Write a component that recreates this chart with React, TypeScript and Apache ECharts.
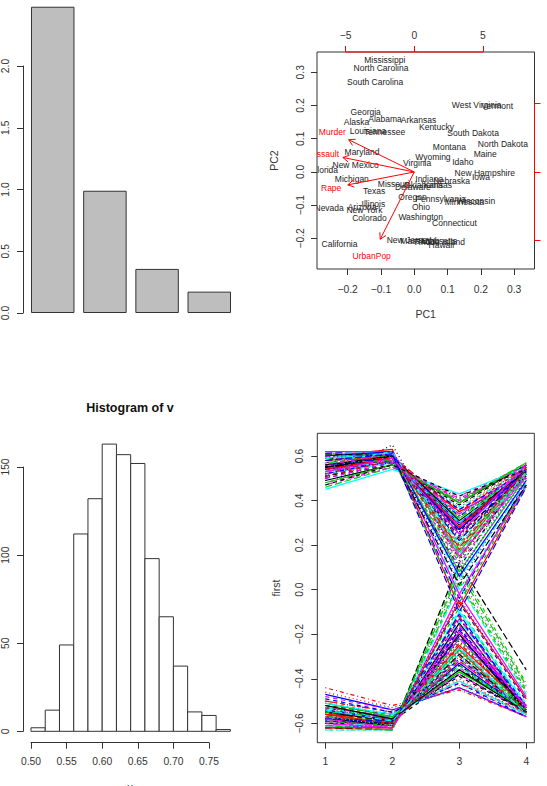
import React, { useEffect, useRef } from 'react';
import * as echarts from 'echarts';

// ---------- Panel 1: scree barplot ----------
const screeComponents = ['PC1', 'PC2', 'PC3', 'PC4'];
const screeVariances = [2.48, 0.99, 0.357, 0.173];
const screeTicks = [0, 0.5, 1, 1.5, 2];

// ---------- Panel 2: biplot (USArrests) ----------
const stateNames = ['Alabama', 'Alaska', 'Arizona', 'Arkansas', 'California', 'Colorado', 'Connecticut', 'Delaware', 'Florida', 'Georgia', 'Hawaii', 'Idaho', 'Illinois', 'Indiana', 'Iowa', 'Kansas', 'Kentucky', 'Louisiana', 'Maine', 'Maryland', 'Massachusetts', 'Michigan', 'Minnesota', 'Mississippi', 'Missouri', 'Montana', 'Nebraska', 'Nevada', 'New Hampshire', 'New Jersey', 'New Mexico', 'New York', 'North Carolina', 'North Dakota', 'Ohio', 'Oklahoma', 'Oregon', 'Pennsylvania', 'Rhode Island', 'South Carolina', 'South Dakota', 'Tennessee', 'Texas', 'Utah', 'Vermont', 'Virginia', 'Washington', 'West Virginia', 'Wisconsin', 'Wyoming'];
const statePC1 = [-0.0876, -0.1734, -0.1567, 0.0126, -0.2244, -0.1346, 0.1208, -0.0042, -0.2678, -0.1457, 0.0811, 0.1458, -0.1226, 0.0449, 0.2003, 0.0708, 0.0667, -0.1391, 0.2131, -0.1568, 0.0432, -0.1874, 0.1505, -0.0886, -0.0619, 0.1054, 0.1125, -0.2555, 0.2119, -0.0161, -0.1760, -0.1496, -0.0999, 0.2660, 0.0201, 0.0277, -0.0053, 0.0790, 0.0768, -0.1174, 0.1767, -0.0889, -0.1205, 0.0489, 0.2490, 0.0086, 0.0193, 0.1874, 0.1848, 0.0560];
const statePC2 = [0.1595, 0.1510, -0.1050, 0.1576, -0.2171, -0.1390, -0.1532, -0.0458, 0.0055, 0.1800, -0.2210, 0.0297, -0.0960, -0.0213, -0.0146, -0.0380, 0.1349, 0.1226, 0.0530, 0.0602, -0.2075, -0.0219, -0.0890, 0.3368, -0.0371, 0.0755, -0.0273, -0.1091, -0.0025, -0.2040, 0.0201, -0.1158, 0.3135, 0.0844, -0.1045, -0.0405, -0.0762, -0.0804, -0.2100, 0.2721, 0.1159, 0.1211, -0.0580, -0.2071, 0.1973, 0.0280, -0.1365, 0.2010, -0.0860, 0.0452];
const varNames = ['Murder', 'Assault', 'UrbanPop', 'Rape'];
const varPC1 = [-5.968, -6.494, -3.098, -6.051];
const varPC2 = [2.942, 1.323, -6.140, -1.177];
const biplotTicks = [-0.2, -0.1, 0, 0.1, 0.2, 0.3];
const loadingTicks = [-5, 0, 5];
const biplotLimits = [-0.292, 0.361];
const loadingRatio = 24.25;

// ---------- Panel 3: histogram ----------
const histBreaks = [0.50, 0.52, 0.54, 0.56, 0.58, 0.60, 0.62, 0.64, 0.66, 0.68, 0.70, 0.72, 0.74, 0.76, 0.78];
const histCounts = [2, 12, 49, 112, 132, 163, 157, 152, 98, 65, 37, 11, 9, 1];
const histXTicks = [0.5, 0.55, 0.6, 0.65, 0.7, 0.75];
const histYTicks = [0, 50, 100, 150];

// ---------- Panel 4: matplot of bootstrap loadings ----------
const matX = [1, 2, 3, 4];
const matYTicks = [-0.6, -0.4, -0.2, 0, 0.2, 0.4, 0.6];
const positiveSamples = [
  [0.55, 0.59, 0.29, 0.54], [0.53, 0.58, 0.33, 0.52], [0.58, 0.60, 0.22, 0.53], [0.51, 0.57, 0.38, 0.55],
  [0.56, 0.61, 0.18, 0.55], [0.60, 0.60, 0.12, 0.52], [0.49, 0.56, 0.41, 0.54], [0.54, 0.59, 0.30, 0.52],
  [0.57, 0.58, 0.25, 0.55], [0.52, 0.60, 0.35, 0.50], [0.59, 0.62, 0.08, 0.51], [0.47, 0.55, 0.42, 0.56],
  [0.55, 0.57, 0.27, 0.56], [0.61, 0.61, 0.03, 0.50], [0.53, 0.59, 0.31, 0.53], [0.56, 0.60, 0.20, 0.54],
  [0.50, 0.56, 0.37, 0.55], [0.58, 0.62, 0.15, 0.51], [0.54, 0.58, 0.28, 0.55], [0.62, 0.60, -0.04, 0.49],
  [0.52, 0.57, 0.34, 0.53], [0.57, 0.59, 0.23, 0.54], [0.46, 0.55, 0.40, 0.57], [0.55, 0.61, 0.26, 0.50],
  [0.59, 0.58, 0.10, 0.55], [0.51, 0.58, 0.36, 0.52], [0.56, 0.60, 0.19, 0.53], [0.60, 0.63, -0.08, 0.47],
  [0.53, 0.57, 0.32, 0.54], [0.58, 0.61, 0.16, 0.52], [0.49, 0.56, 0.39, 0.56], [0.55, 0.59, 0.24, 0.54],
  [0.61, 0.62, 0.05, 0.48], [0.52, 0.58, 0.33, 0.55], [0.57, 0.60, 0.21, 0.52], [0.54, 0.57, 0.29, 0.56],
  [0.50, 0.65, 0.13, 0.55], [0.56, 0.59, 0.27, 0.53], [0.59, 0.61, 0.00, 0.46], [0.53, 0.58, 0.35, 0.51],
  [0.58, 0.60, 0.17, 0.54], [0.48, 0.55, 0.41, 0.55], [0.55, 0.60, 0.25, 0.52], [0.60, 0.59, 0.07, 0.53],
  [0.52, 0.57, 0.37, 0.54], [0.57, 0.61, 0.14, 0.55], [0.54, 0.58, 0.30, 0.53], [0.62, 0.62, -0.02, 0.47],
  [0.51, 0.56, 0.38, 0.56], [0.56, 0.59, 0.22, 0.54], [0.45, 0.54, 0.43, 0.55], [0.58, 0.60, 0.18, 0.52],
  [0.53, 0.59, 0.32, 0.54], [0.60, 0.61, 0.09, 0.50], [0.55, 0.58, 0.26, 0.56], [0.50, 0.57, 0.36, 0.53],
  [0.57, 0.62, 0.11, 0.52], [0.54, 0.59, 0.28, 0.55], [0.61, 0.60, -0.06, 0.48], [0.52, 0.58, 0.34, 0.54],
  [0.56, 0.60, 0.31, 0.53], [0.52, 0.58, 0.27, 0.54], [0.59, 0.61, 0.20, 0.52], [0.54, 0.59, 0.36, 0.55],
  [0.57, 0.58, 0.14, 0.53], [0.50, 0.57, 0.40, 0.56], [0.55, 0.60, 0.23, 0.51], [0.60, 0.62, 0.06, 0.49],
  [0.53, 0.58, 0.30, 0.55], [0.58, 0.59, 0.19, 0.54], [0.48, 0.56, 0.39, 0.57], [0.56, 0.61, 0.28, 0.52],
  [0.61, 0.60, 0.02, 0.47], [0.54, 0.57, 0.33, 0.54], [0.57, 0.62, 0.16, 0.53], [0.51, 0.58, 0.35, 0.55],
  [0.59, 0.60, 0.11, 0.51], [0.53, 0.59, 0.25, 0.56], [0.47, 0.56, 0.42, 0.54], [0.58, 0.61, -0.10, 0.46],
];
const negativeSamples = [
  [-0.56, -0.59, -0.30, -0.54], [-0.54, -0.58, -0.34, -0.53], [-0.59, -0.61, -0.22, -0.53], [-0.52, -0.56, -0.39, -0.55],
  [-0.57, -0.60, -0.18, -0.55], [-0.61, -0.62, -0.10, -0.52], [-0.50, -0.55, -0.42, -0.55], [-0.55, -0.59, -0.31, -0.54],
  [-0.58, -0.60, -0.25, -0.56], [-0.53, -0.57, -0.36, -0.53], [-0.60, -0.62, -0.06, -0.50], [-0.48, -0.53, -0.45, -0.56],
  [-0.56, -0.58, -0.27, -0.56], [-0.62, -0.63, 0.04, -0.45], [-0.54, -0.59, -0.32, -0.54], [-0.57, -0.61, -0.20, -0.55],
  [-0.51, -0.56, -0.38, -0.55], [-0.59, -0.62, -0.14, -0.52], [-0.55, -0.58, -0.28, -0.55], [-0.63, -0.63, 0.10, -0.42],
  [-0.53, -0.57, -0.35, -0.54], [-0.58, -0.60, -0.23, -0.55], [-0.47, -0.54, -0.44, -0.57], [-0.56, -0.61, -0.26, -0.53],
  [-0.60, -0.59, -0.12, -0.55], [-0.52, -0.58, -0.37, -0.52], [-0.57, -0.60, -0.19, -0.54], [-0.62, -0.63, 0.12, -0.36],
  [-0.54, -0.57, -0.33, -0.55], [-0.59, -0.61, -0.16, -0.53], [-0.50, -0.55, -0.41, -0.56], [-0.56, -0.59, -0.24, -0.55],
  [-0.61, -0.62, -0.02, -0.48], [-0.53, -0.58, -0.34, -0.55], [-0.58, -0.60, -0.21, -0.53], [-0.55, -0.57, -0.29, -0.56],
  [-0.44, -0.52, -0.45, -0.57], [-0.57, -0.59, -0.27, -0.54], [-0.60, -0.62, 0.06, -0.44], [-0.54, -0.58, -0.36, -0.52],
  [-0.59, -0.60, -0.17, -0.55], [-0.49, -0.55, -0.43, -0.56], [-0.56, -0.60, -0.25, -0.53], [-0.61, -0.59, -0.08, -0.54],
  [-0.53, -0.57, -0.38, -0.55], [-0.58, -0.61, -0.15, -0.55], [-0.55, -0.58, -0.31, -0.54], [-0.63, -0.63, 0.02, -0.47],
  [-0.52, -0.56, -0.40, -0.56], [-0.57, -0.59, -0.22, -0.55], [-0.48, -0.54, -0.44, -0.57], [-0.59, -0.61, -0.18, -0.53],
  [-0.54, -0.59, -0.33, -0.55], [-0.61, -0.62, -0.09, -0.51], [-0.56, -0.58, -0.26, -0.56], [-0.51, -0.57, -0.37, -0.54],
  [-0.58, -0.62, -0.13, -0.53], [-0.55, -0.59, -0.29, -0.55], [-0.62, -0.61, -0.04, -0.49], [-0.53, -0.58, -0.35, -0.54],
  [-0.57, -0.60, -0.32, -0.54], [-0.53, -0.58, -0.28, -0.55], [-0.60, -0.62, -0.19, -0.52], [-0.55, -0.59, -0.38, -0.55],
  [-0.58, -0.59, -0.11, -0.54], [-0.51, -0.56, -0.41, -0.56], [-0.56, -0.61, -0.24, -0.53], [-0.61, -0.63, 0.08, -0.43],
  [-0.54, -0.58, -0.30, -0.55], [-0.59, -0.60, -0.20, -0.54], [-0.49, -0.55, -0.42, -0.57], [-0.57, -0.61, -0.27, -0.53],
  [-0.62, -0.62, -0.05, -0.49], [-0.55, -0.57, -0.34, -0.55], [-0.58, -0.62, -0.16, -0.53], [-0.52, -0.58, -0.36, -0.55],
  [-0.60, -0.60, -0.13, -0.52], [-0.54, -0.59, -0.26, -0.56], [-0.46, -0.53, -0.44, -0.55], [-0.59, -0.61, 0.03, -0.46],
];
const rPalette = ['#000000', '#FF0000', '#00CD00', '#0000FF', '#00FFFF', '#FF00FF'];
const rLineTypes: any[] = ['solid', [4, 4], [1, 3], [1, 3, 4, 3], [7, 3]];

// ---------- styling ----------
const FONT = 'Liberation Sans, Arial, Helvetica, sans-serif';
const INK = '#333333';
const RED = '#FF0000';
const minusFmt = (s: string) => s.replace('-', '\u2212');
const fmt0 = (v: number) => minusFmt(String(Math.round(v)));
const fmt1 = (v: number) => minusFmt(Number(v).toFixed(1));
const fmt2 = (v: number) => minusFmt(Number(v).toFixed(2));

const labelBase = { fontFamily: FONT, fontSize: 10.3, color: INK };
const tickBase = (values: number[], color = INK) => ({
  show: true, inside: false, length: 6, customValues: values, lineStyle: { color, width: 1 },
});
const hiddenLine = { show: false, onZero: false };
const visibleLine = { show: true, onZero: false, lineStyle: { color: INK, width: 1 } };

function buildOption() {
  const secLimits = [biplotLimits[0] * loadingRatio, biplotLimits[1] * loadingRatio];

  // interleave bootstrap samples in a fixed order: + - - +
  const samples: number[][] = [];
  for (let k = 0; k < positiveSamples.length / 2; k++) {
    samples.push(positiveSamples[2 * k]);
    samples.push(negativeSamples[2 * k]);
    samples.push(negativeSamples[2 * k + 1]);
    samples.push(positiveSamples[2 * k + 1]);
  }
  const matSeries = samples.map((s, i) => ({
    type: 'line',
    xAxisIndex: 4,
    yAxisIndex: 4,
    data: matX.map((x, j) => [x, s[j]]),
    symbol: 'none',
    silent: true,
    lineStyle: { color: rPalette[i % 6], width: 1.2, type: rLineTypes[i % 5] },
    z: 2,
  }));

  const histData = histCounts.map((c, i) => [histBreaks[i], histBreaks[i + 1], c]);

  return {
    animation: false,
    textStyle: { fontFamily: FONT },
    grid: [
      { left: 24.65, top: 66, width: 210.7, height: 247 },
      { left: 317, top: 52, width: 217.5, height: 217, show: true, borderColor: INK, borderWidth: 1, backgroundColor: 'transparent' },
      { left: 29.3, top: 467, width: 179.7, height: 264.3 },
      { left: 317.3, top: 433.3, width: 217, height: 309.4, show: true, borderColor: INK, borderWidth: 1, backgroundColor: 'transparent' },
    ],
    xAxis: [
      { gridIndex: 0, type: 'category', data: screeComponents, show: false },
      {
        gridIndex: 1, type: 'value', min: biplotLimits[0], max: biplotLimits[1], position: 'bottom',
        axisLine: hiddenLine, splitLine: { show: false },
        axisTick: tickBase(biplotTicks),
        axisLabel: { ...labelBase, margin: 15, customValues: biplotTicks, formatter: fmt1 },
        name: 'PC1', nameLocation: 'middle', nameGap: 39,
        nameTextStyle: { fontFamily: FONT, fontSize: 10.5, color: INK },
      },
      {
        gridIndex: 1, type: 'value', min: secLimits[0], max: secLimits[1], position: 'top',
        axisLine: hiddenLine, splitLine: { show: false },
        axisTick: tickBase(loadingTicks, RED),
        axisLabel: { ...labelBase, margin: 12, customValues: loadingTicks, formatter: fmt0 },
      },
      {
        gridIndex: 2, type: 'value', min: histXTicks[0], max: histXTicks[histXTicks.length - 1], offset: 11.4,
        axisLine: visibleLine, splitLine: { show: false },
        axisTick: tickBase(histXTicks),
        axisLabel: { ...labelBase, margin: 14, customValues: histXTicks, formatter: fmt2 },
      },
      {
        gridIndex: 3, type: 'value', min: 0.88, max: 4.12,
        axisLine: hiddenLine, splitLine: { show: false },
        axisTick: tickBase(matX),
        axisLabel: { ...labelBase, margin: 14, customValues: matX, formatter: fmt0 },
      },
    ],
    yAxis: [
      {
        gridIndex: 0, type: 'value', min: screeTicks[0], max: screeTicks[screeTicks.length - 1], offset: 3.65,
        axisLine: visibleLine, splitLine: { show: false },
        axisTick: tickBase(screeTicks),
        axisLabel: { ...labelBase, rotate: 90, margin: 13, customValues: screeTicks, formatter: fmt1 },
      },
      {
        gridIndex: 1, type: 'value', min: biplotLimits[0], max: biplotLimits[1],
        axisLine: hiddenLine, splitLine: { show: false },
        axisTick: tickBase(biplotTicks),
        axisLabel: { ...labelBase, rotate: 90, margin: 11.5, customValues: biplotTicks, formatter: fmt1 },
        name: 'PC2', nameLocation: 'middle', nameGap: 37.5,
        nameTextStyle: { fontFamily: FONT, fontSize: 10.5, color: INK },
      },
      {
        gridIndex: 1, type: 'value', min: secLimits[0], max: secLimits[1], position: 'right',
        axisLine: hiddenLine, splitLine: { show: false },
        axisTick: tickBase(loadingTicks, RED),
        axisLabel: { show: false },
      },
      {
        gridIndex: 2, type: 'value', min: histYTicks[0], max: histYTicks[histYTicks.length - 1], offset: 8,
        axisLine: visibleLine, splitLine: { show: false },
        axisTick: tickBase(histYTicks),
        axisLabel: { ...labelBase, rotate: 90, margin: 13, customValues: histYTicks, formatter: fmt0 },
      },
      {
        gridIndex: 3, type: 'value', min: -0.687, max: 0.702,
        axisLine: hiddenLine, splitLine: { show: false },
        axisTick: tickBase(matYTicks),
        axisLabel: { ...labelBase, rotate: 90, margin: 13, customValues: matYTicks, formatter: fmt1 },
        name: 'first', nameLocation: 'middle', nameGap: 36,
        nameTextStyle: { fontFamily: FONT, fontSize: 10.5, color: INK },
      },
    ],
    graphic: [
      {
        type: 'text', x: 130, y: 407.5, silent: true,
        style: { text: 'Histogram of v', font: 'bold 12.5px ' + FONT, fill: '#111', align: 'center', verticalAlign: 'middle' },
      },
      {
        type: 'text', x: 130, y: 787, silent: true,
        style: { text: 'v', font: '10.5px ' + FONT, fill: INK, align: 'center', verticalAlign: 'middle' },
      },
    ],
    series: [
      {
        type: 'bar', xAxisIndex: 0, yAxisIndex: 0, data: screeVariances, clip: false, silent: true,
        barCategoryGap: '16.67%',
        itemStyle: { color: '#BEBEBE', borderColor: INK, borderWidth: 1 },
      },
      {
        type: 'custom', xAxisIndex: 1, yAxisIndex: 1, clip: true, silent: true,
        data: stateNames.map((n, i) => [statePC1[i], statePC2[i]]),
        renderItem: (params: any, api: any) => {
          const p = api.coord([api.value(0), api.value(1)]);
          return {
            type: 'text', x: p[0], y: p[1],
            style: { text: stateNames[params.dataIndex], font: '8.5px ' + FONT, fill: '#222', align: 'center', verticalAlign: 'middle' },
          };
        },
      },
      {
        type: 'custom', xAxisIndex: 2, yAxisIndex: 2, clip: true, silent: true,
        data: varNames.map((n, i) => [varPC1[i], varPC2[i]]),
        renderItem: (params: any, api: any) => {
          const vx = api.value(0), vy = api.value(1);
          const o = api.coord([0, 0]);
          const e = api.coord([vx * 0.8, vy * 0.8]);
          const lp = api.coord([vx, vy]);
          const ang = Math.atan2(e[1] - o[1], e[0] - o[0]);
          const L = 7, A = Math.PI / 6;
          const h1 = [e[0] - L * Math.cos(ang - A), e[1] - L * Math.sin(ang - A)];
          const h2 = [e[0] - L * Math.cos(ang + A), e[1] - L * Math.sin(ang + A)];
          return {
            type: 'group',
            children: [
              { type: 'line', shape: { x1: o[0], y1: o[1], x2: e[0], y2: e[1] }, style: { stroke: RED, lineWidth: 1 } },
              { type: 'polyline', shape: { points: [h1, e, h2] }, style: { stroke: RED, lineWidth: 1, fill: null } },
              {
                type: 'text', x: lp[0], y: lp[1],
                style: { text: varNames[params.dataIndex], font: '8.5px ' + FONT, fill: RED, align: 'center', verticalAlign: 'middle' },
              },
            ],
          };
        },
      },
      {
        type: 'custom', xAxisIndex: 2, yAxisIndex: 2, clip: false, silent: true,
        data: [[loadingTicks[0], loadingTicks[loadingTicks.length - 1]]],
        renderItem: (params: any, api: any) => {
          const lo = api.value(0), hi = api.value(1);
          const a = api.coord([lo, secLimits[1]]);
          const b = api.coord([hi, secLimits[1]]);
          const c = api.coord([secLimits[1], lo]);
          const d = api.coord([secLimits[1], hi]);
          return {
            type: 'group',
            children: [
              { type: 'line', shape: { x1: a[0], y1: a[1], x2: b[0], y2: b[1] }, style: { stroke: RED, lineWidth: 1 } },
              { type: 'line', shape: { x1: c[0], y1: c[1], x2: d[0], y2: d[1] }, style: { stroke: RED, lineWidth: 1 } },
            ],
          };
        },
      },
      {
        type: 'custom', xAxisIndex: 3, yAxisIndex: 3, clip: false, silent: true,
        data: histData,
        renderItem: (params: any, api: any) => {
          const p0 = api.coord([api.value(0), 0]);
          const p1 = api.coord([api.value(1), api.value(2)]);
          return {
            type: 'rect',
            shape: { x: p0[0], y: p1[1], width: p1[0] - p0[0], height: p0[1] - p1[1] },
            style: { fill: '#FFFFFF', stroke: INK, lineWidth: 1 },
          };
        },
      },
      ...matSeries,
    ],
  };
}

export default function App() {
  const ref = useRef<HTMLDivElement>(null);
  useEffect(() => {
    if (!ref.current) return;
    const chart = echarts.init(ref.current, undefined, { renderer: 'svg' });
    chart.setOption(buildOption() as any);
    return () => chart.dispose();
  }, []);
  return (
    <div
      ref={ref}
      style={{ position: 'absolute', left: 0, top: 0, width: 547, height: 786, background: '#FFFFFF' }}
    />
  );
}
